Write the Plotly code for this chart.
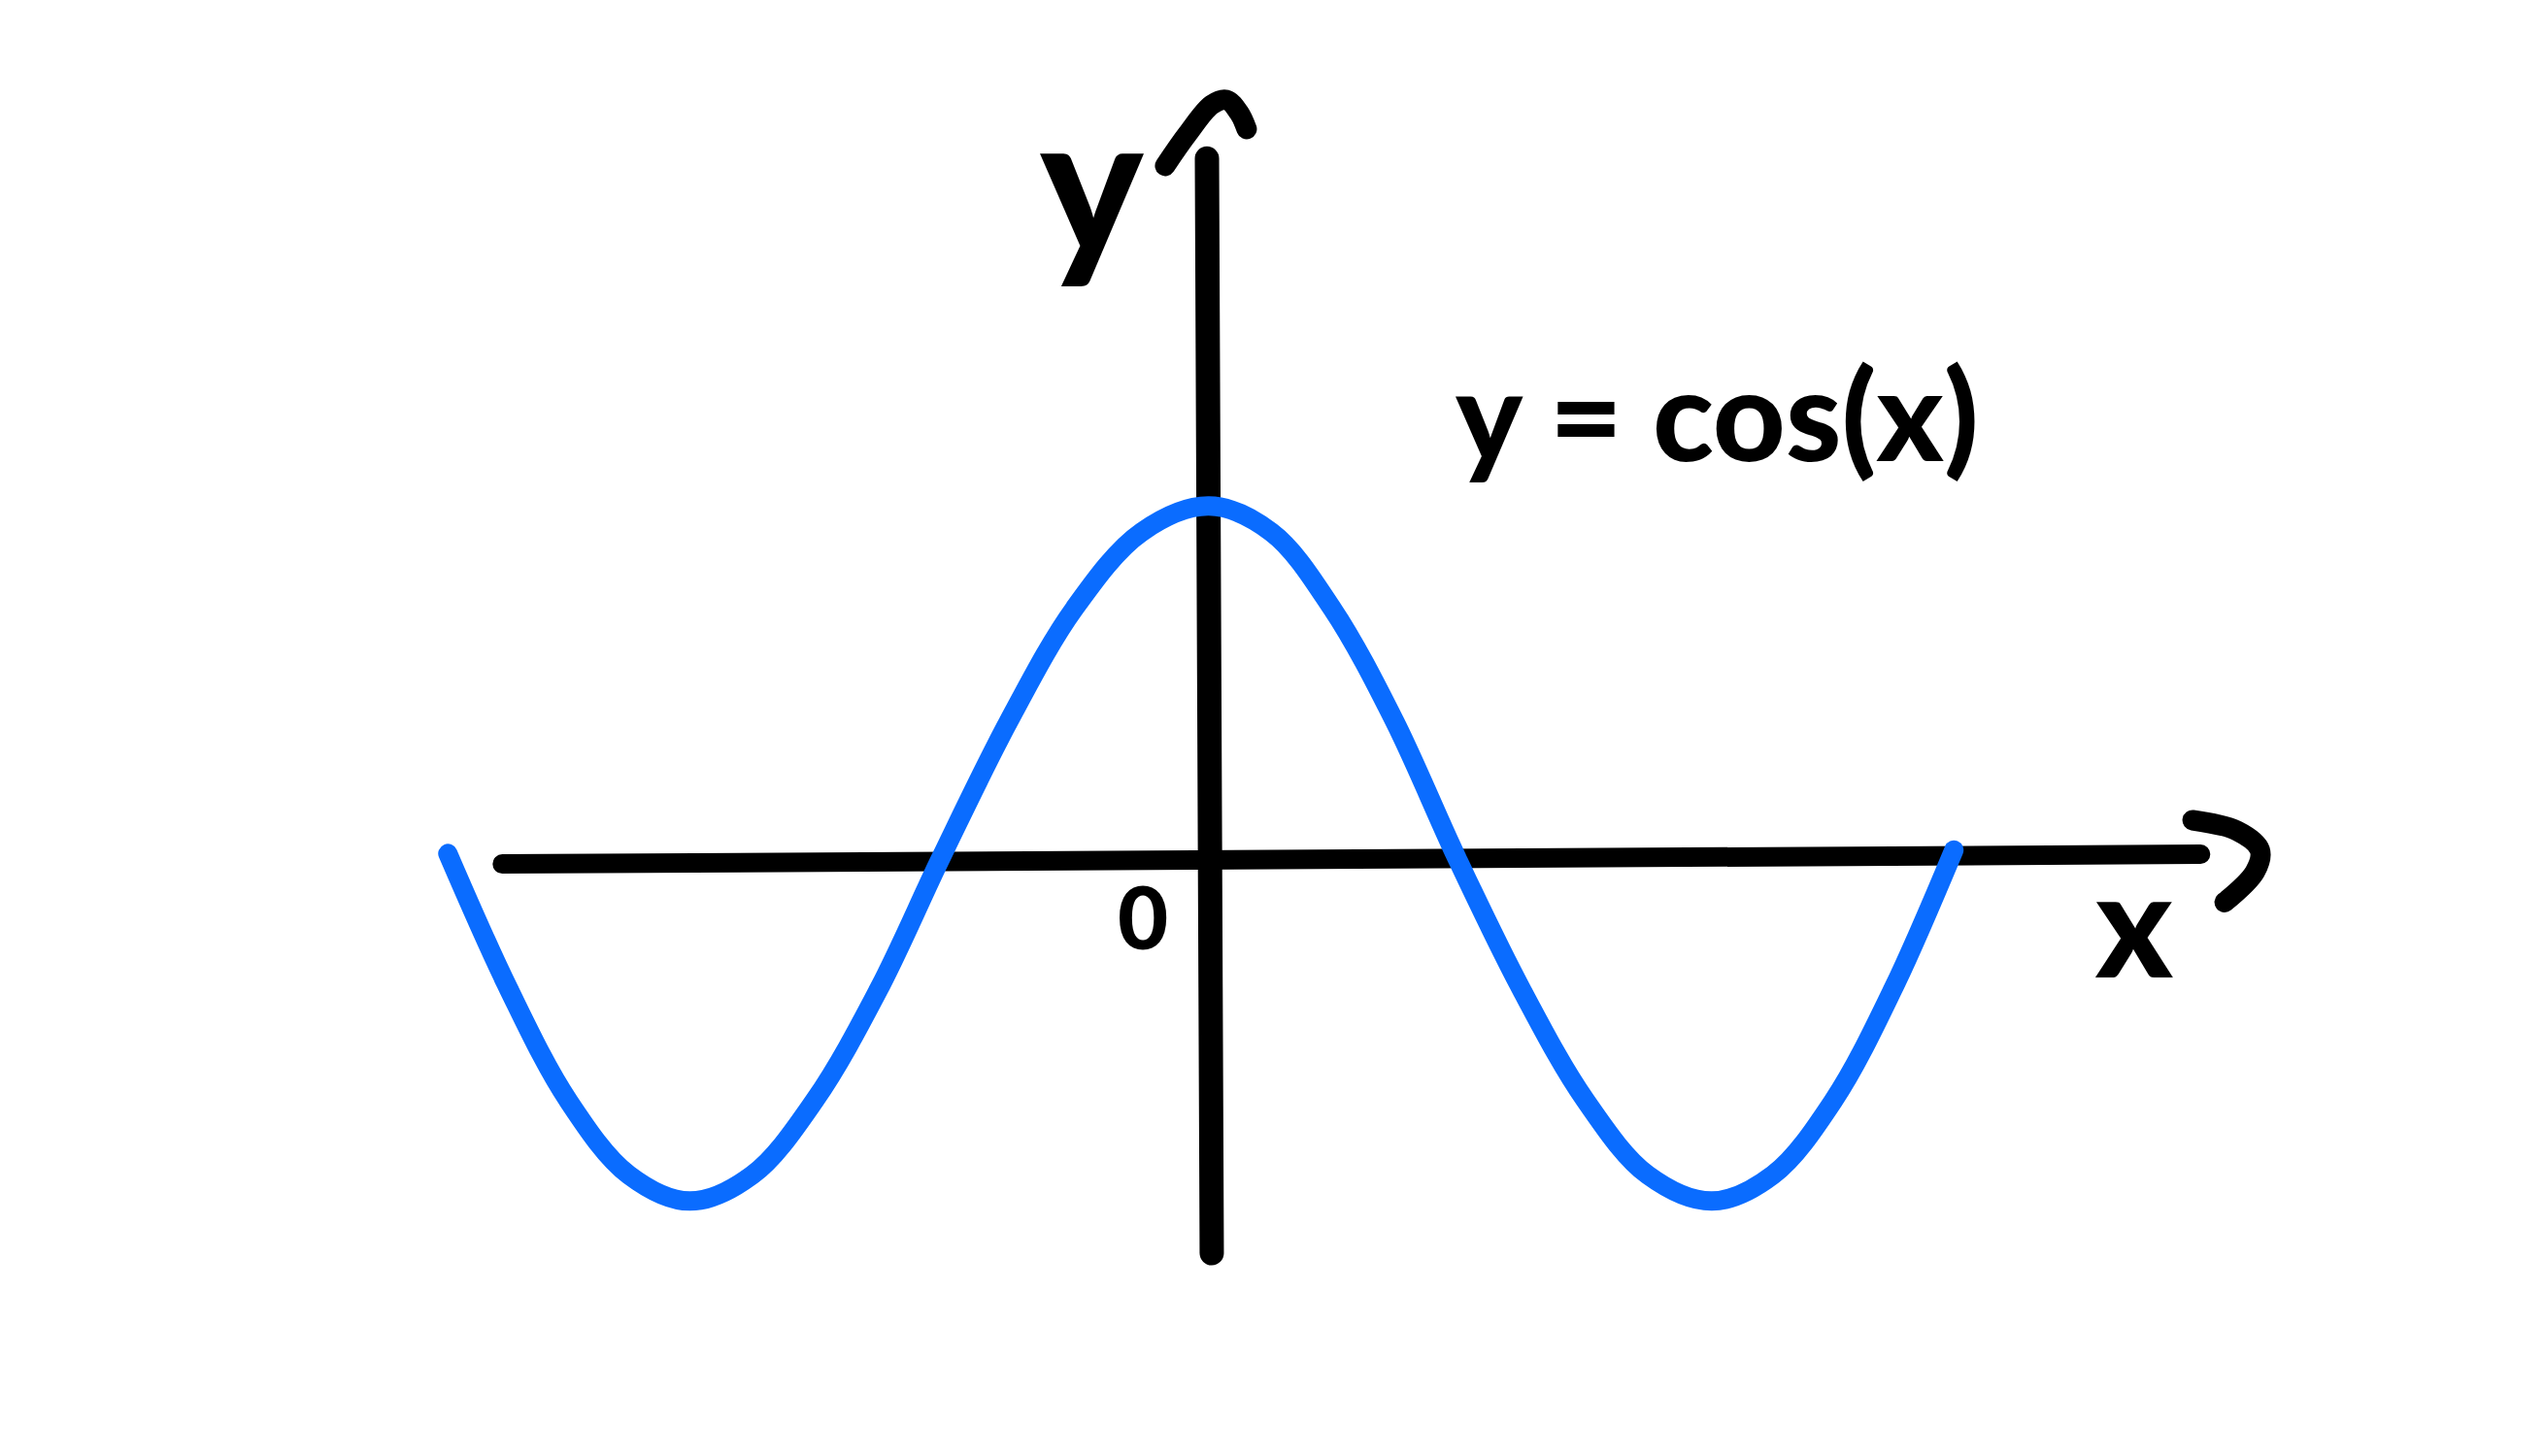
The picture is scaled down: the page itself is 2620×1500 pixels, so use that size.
import plotly.graph_objects as go

# Curve y = cos(x) (x in radians)
curve_x = [-4.75, -4.37, -4.00, -3.62, -3.24, -2.85, -2.46, -2.06, -1.67,
           -1.25, -0.84, -0.42, 0.00, 0.39, 0.77, 1.16, 1.545,
           1.95, 2.35, 2.74, 3.14, 3.52, 3.90, 4.27, 4.65]
curve_y = [0.01, -0.38, -0.70, -0.915, -0.99, -0.915, -0.70, -0.38, 0.00,
           0.39, 0.715, 0.935, 1.01, 0.935, 0.715, 0.39, 0.00,
           -0.38, -0.70, -0.915, -0.99, -0.915, -0.70, -0.38, 0.02]

# Hand-drawn axes (data units)
x_axis_x = [-4.41, 6.19]
x_axis_y = [-0.02, 0.008]
y_axis_x = [0.018, -0.012]
y_axis_y = [-1.14, 2.01]

# Hand-drawn arrow heads
x_arrow_x = [6.14, 6.42, 6.56, 6.53, 6.34]
x_arrow_y = [0.106, 0.075, 0.02, -0.042, -0.13]
y_arrow_x = [-0.273, -0.133, 0.018, 0.109, 0.188, 0.236]
y_arrow_y = [1.989, 2.081, 2.165, 2.179, 2.142, 2.095]

# Labels
label_texts = ["y", "0", "x", "y = cos(x)"]
label_x = [-0.73, -0.41, 5.77, 3.17]
label_y = [1.95, -0.167, -0.185, 1.28]
label_sizes = [200, 90, 150, 130]

BLUE = "#0A6CFF"
BLACK = "#000000"

fig = go.Figure()


def stroke(xs, ys, color, width, spline=True):
    fig.add_trace(go.Scatter(
        x=xs, y=ys, mode="lines",
        line=dict(color=color, width=width, shape="spline" if spline else "linear",
                  smoothing=1.0, simplify=False),
        hoverinfo="skip", showlegend=False,
    ))


stroke(x_axis_x, x_axis_y, BLACK, 20, spline=False)
stroke(y_axis_x, y_axis_y, BLACK, 25, spline=False)
stroke(x_arrow_x, x_arrow_y, BLACK, 21)
stroke(y_arrow_x, y_arrow_y, BLACK, 21)
stroke(curve_x, curve_y, BLUE, 20)

for t, xx, yy, s in zip(label_texts, label_x, label_y, label_sizes):
    fig.add_annotation(
        x=xx, y=yy, text=t, showarrow=False, xanchor="center", yanchor="middle",
        font=dict(family="Lato, 'DejaVu Sans', sans-serif", size=s, color=BLACK, weight=900),
    )

fig.update_layout(
    width=2620, height=1500,
    margin=dict(l=0, r=0, t=0, b=0),
    paper_bgcolor="white", plot_bgcolor="white",
    xaxis=dict(range=[-7.497, 8.382], visible=False, showgrid=False, zeroline=False, fixedrange=True),
    yaxis=dict(range=[-1.746, 2.444], visible=False, showgrid=False, zeroline=False, fixedrange=True),
)

round_caps = """
var gd = document.getElementById('{plot_id}');
function rc() {
  gd.querySelectorAll('path.js-line').forEach(function (p) {
    p.style.strokeLinecap = 'round';
    p.style.strokeLinejoin = 'round';
  });
}
rc();
gd.on && gd.on('plotly_afterplot', rc);
"""

fig.write_html("out.html", post_script=round_caps)
